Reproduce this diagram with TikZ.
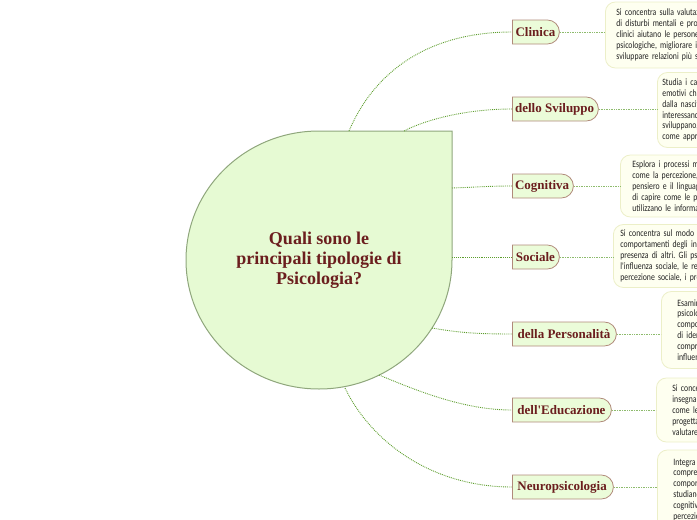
\documentclass[tikz,border=0pt]{standalone}
\usepackage{fontspec}
\usetikzlibrary{shapes.misc}
\newfontfamily\descfont[FakeStretch=0.8, WordSpace=0.7]{Carlito}
\newfontfamily\titlefont{Liberation Serif}
\definecolor{rootfill}{HTML}{E6FAD3}
\definecolor{rootborder}{HTML}{8FA67C}
\definecolor{branchfill}{HTML}{EBFCD9}
\definecolor{branchborder}{HTML}{B08A7A}
\definecolor{titlecol}{HTML}{6B1E1E}
\definecolor{linkgreen}{HTML}{5E9E2E}
\definecolor{descfill}{HTML}{FEFFF0}
\definecolor{descborder}{HTML}{ECEFC8}
\definecolor{desctext}{HTML}{222222}
\frenchspacing
\begin{document}
\begin{tikzpicture}[x=1pt, y=-1pt,
    branch/.style={rounded rectangle, rounded rectangle left arc=none, draw=branchborder, fill=branchfill,
      line width=0.8pt, minimum height=24pt, anchor=west, inner xsep=10pt, text=titlecol,
      font=\titlefont\bfseries\fontsize{13}{15}\selectfont},
    desc/.style={draw=descborder, fill=descfill, line width=0.8pt, rounded corners=10pt, anchor=west,
      align=left, text width=300pt, inner ysep=4pt, text=desctext,
      font=\descfont\fontsize{9.7}{10.9}\selectfont},
    link/.style={draw=linkgreen, densely dotted, line width=0.9pt},
    leaf/.style={draw=linkgreen!70, densely dotted, line width=0.7pt}]
    \clip (0,0) rectangle (697,520);
    % central drop
    \draw[fill=rootfill, draw=rootborder, line width=1pt] (452,131) -- (452,260)
      arc[start angle=0, end angle=270, x radius=133, y radius=129] -- cycle;
    \node[align=center, text=titlecol, font=\titlefont\bfseries\fontsize{18}{20}\selectfont]
      (root) at (319,260) {Quali sono le\\principali tipologie di\\Psicologia?};
    \coordinate (r1) at (349,131);
    \coordinate (r2) at (404,131);
    \coordinate (r3) at (452,188);
    \coordinate (r4) at (452,257);
    \coordinate (r5) at (432,328);
    \coordinate (r6) at (379,375);
    \coordinate (r7) at (345,388);
    % branches
    \node[branch, minimum width=67pt] (clinica) at (512,32) {Clinica};
    \node[branch, minimum width=106pt] (sviluppo) at (512,109) {dello Sviluppo};
    \node[branch, minimum width=81pt] (cognitiva) at (512,186) {Cognitiva};
    \node[branch, minimum width=67pt] (sociale) at (512,257) {Sociale};
    \node[branch, minimum width=124pt] (personalita) at (512,334) {della Personalità};
    \node[branch, minimum width=119pt] (educazione) at (512,410) {dell'Educazione};
    \node[branch, minimum width=121pt] (neuro) at (512,487) {Neuropsicologia};
    % descriptions
    \node[desc, inner xsep=11pt, minimum height=66pt] (dclinica) at (605,35)
      {Si concentra sulla valutazione e sul trattamento\\di disturbi mentali e problemi emotivi. Gli psicologi\\clinici aiutano le persone ad affrontare difficoltà\\psicologiche, migliorare il benessere e\\sviluppare relazioni più sane.};
    \node[desc, inner xsep=5pt, minimum height=75pt] (dsviluppo) at (657,110)
      {Studia i cambiamenti fisici,\\emotivi che avvengono\\dalla nascita alla vecchiaia,\\interessandosi a come le persone\\sviluppano, crescono e\\come apprendono.};
    \node[desc, inner xsep=12pt, minimum height=62pt] (dcognitiva) at (620,186)
      {Esplora i processi mentali\\come la percezione, la memoria,\\pensiero e il linguaggio, cercando\\di capire come le persone\\utilizzano le informazioni.};
    \node[desc, inner xsep=7pt, minimum height=63pt] (dsociale) at (613,256)
      {Si concentra sul modo in cui i\\comportamenti degli individui\\presenza di altri. Gli psicologi\\l'influenza sociale, le relazioni\\percezione sociale, i pregiudizi.};
    \node[desc, inner xsep=16pt, minimum height=77pt] (dpersonalita) at (661,330)
      {Esamina\\psicologici\\comportamenti\\di identificare\\comprendere\\influenze};
    \node[desc, inner xsep=16pt, minimum height=64pt] (deducazione) at (656,410)
      {Si concentra\\insegnamento\\come le persone\\progettare\\valutare};
    \node[desc, inner xsep=16pt, minimum height=80pt] (dneuro) at (657,490)
      {Integra\\comprendere\\comportamento\\studiando\\cognitive\\percezione};
    % links from the drop
    \draw[link] (r1) .. controls (375,70) and (430,32) .. (clinica.west);
    \draw[link] (r2) .. controls (425,120) and (465,109) .. (sviluppo.west);
    \draw[link] (r3) .. controls (480,187) and (490,186) .. (cognitiva.west);
    \draw[link] (r4) -- (sociale.west);
    \draw[link] (r5) .. controls (460,333) and (480,334) .. (personalita.west);
    \draw[link] (r6) .. controls (420,392) and (465,410) .. (educazione.west);
    \draw[link] (r7) .. controls (370,440) and (430,487) .. (neuro.west);
    % links to descriptions
    \draw[leaf] (clinica.east) -- (clinica.east -| dclinica.west);
    \draw[leaf] (sviluppo.east) -- (sviluppo.east -| dsviluppo.west);
    \draw[leaf] (cognitiva.east) -- (cognitiva.east -| dcognitiva.west);
    \draw[leaf] (sociale.east) -- (sociale.east -| dsociale.west);
    \draw[leaf] (personalita.east) -- (personalita.east -| dpersonalita.west);
    \draw[leaf] (educazione.east) -- (educazione.east -| deducazione.west);
    \draw[leaf] (neuro.east) -- (neuro.east -| dneuro.west);
\end{tikzpicture}
\end{document}
